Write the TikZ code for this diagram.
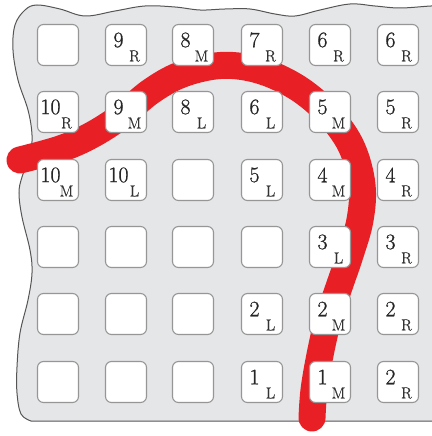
\documentclass[tikz,border=0pt]{standalone}
\usepackage{fontspec}
\setmainfont{Latin Modern Roman}
\newfontfamily\tilefont{Latin Modern Roman}[FakeBold=0.9]
\definecolor{bg}{RGB}{229,230,232}
\definecolor{edgecol}{RGB}{85,85,85}
\definecolor{tileedge}{RGB}{150,150,150}
\definecolor{redline}{RGB}{232,32,38}
\tikzset{
  tile/.style={draw=tileedge,fill=white,line width=1.1pt,rounded corners=6pt,minimum width=41pt,minimum height=41pt,inner sep=0pt},
  num/.style={inner sep=0pt,text=black!85,font=\tilefont\fontsize{22}{22}\selectfont},
  sublab/.style={inner sep=0pt,text=black!80,font=\tilefont\fontsize{16}{16}\selectfont},
  stroke/.style={draw=redline,line width=27pt,line cap=round}
}
\begin{document}
\begin{tikzpicture}[x=1pt,y=-1pt]
\useasboundingbox (0,0) rectangle (431,436);
% background sheet
\filldraw[fill=bg,draw=edgecol,line width=1pt]
  plot[smooth,tension=0.6] coordinates {(31,421) (21,414) (17,393) (17,367) (20,333) (28,300) (32,273) (30,250) (22,217) (19,193) (22,177) (30,155) (32,135) (28,110) (18,80) (13,50) (15,25) (25,10) (37,5) (60,9) (85,16) (115,11) (145,6) (175,7) (200,10) (225,9) (250,9) (275,14) (295,16) (320,10) (350,4) (375,6) (400,8) (431,6) (445,6)}
  -- (445,421) -- cycle;
% red path
\draw[stroke] plot[smooth,tension=0.6] coordinates {(20,160) (60,149) (90,136) (120,117) (150,92) (180,75) (215,66) (245,67) (275,76) (305,93) (332,118) (352,148) (362,185) (360,220) (350,255) (339,287) (328,320) (320,355) (314,390) (312,418)};
% tiles
\foreach[count=\i] \x in {58,126,193,262,330,398}
  \foreach[count=\j] \y in {45,112,180,247,314,382}
    \node[tile] (t\i\j) at (\x,\y) {};
% labels
\foreach \i/\j/\n/\s in {2/1/9/R,3/1/8/M,4/1/7/R,5/1/6/R,6/1/6/R,
  1/2/10/R,2/2/9/M,3/2/8/L,4/2/6/L,5/2/5/M,6/2/5/R,
  1/3/10/M,2/3/10/L,4/3/5/L,5/3/4/M,6/3/4/R,
  5/4/3/L,6/4/3/R,
  4/5/2/L,5/5/2/M,6/5/2/R,
  4/6/1/L,5/6/1/M,6/6/2/R}
{
  \node[num] (n\i\j) at ([shift={(-7.5,-5)}]t\i\j.center) {\n};
  \node[sublab] (s\i\j) at ([shift={(8.5,11)}]t\i\j.center) {\s};
}
\end{tikzpicture}
\end{document}
